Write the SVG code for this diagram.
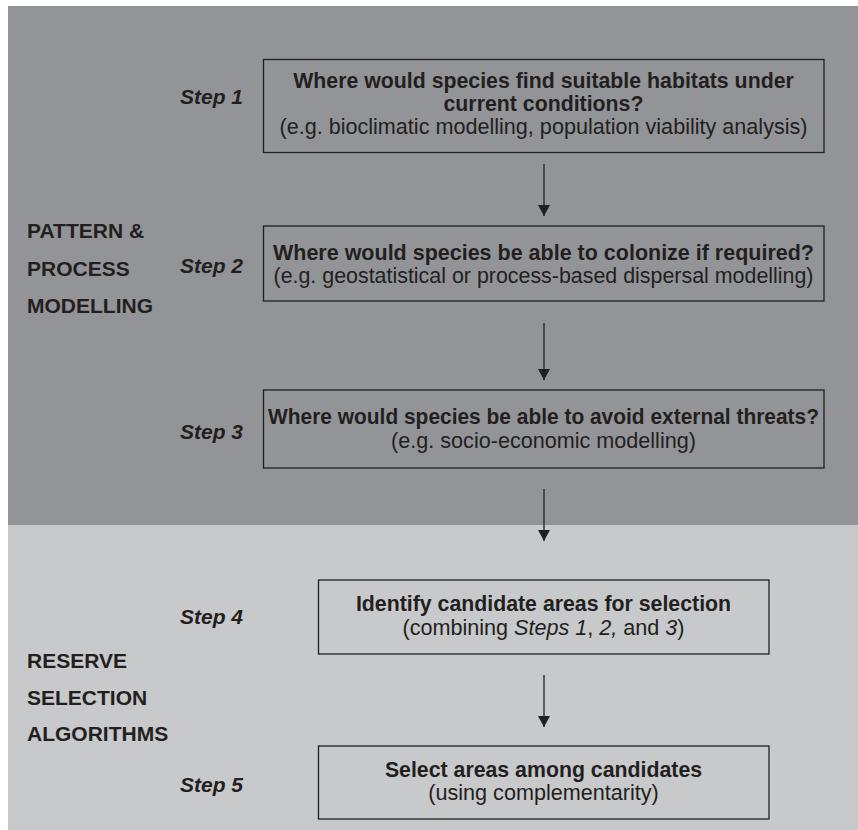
<svg xmlns="http://www.w3.org/2000/svg" width="858" height="830" viewBox="0 0 858 830">
  <style>
    text { font-family: "Liberation Sans", Arial, Helvetica, sans-serif; fill: #231f20; }
    .box { fill: none; stroke: #231f20; stroke-width: 1.3; }
    .t1 { font-size: 21.3px; font-weight: bold; text-anchor: middle; }
    .t2 { font-size: 21.6px; text-anchor: middle; }
    .step { font-size: 21px; font-weight: bold; font-style: italic; text-anchor: end; }
    .sec { font-size: 21px; font-weight: bold; }
    .conn { stroke: #231f20; stroke-width: 1.3; fill: none; }
    .it { font-style: italic; }
  </style>
  <defs>
    <marker id="ah" markerUnits="userSpaceOnUse" markerWidth="11" markerHeight="12" refX="11" refY="6" orient="auto" viewBox="0 0 11 12">
      <path d="M0,0 L11,6 L0,12 Z" fill="#231f20"/>
    </marker>
  </defs>

  <!-- backgrounds -->
  <g id="bands">
    <rect x="8" y="6" width="850" height="519" fill="#939498"/>
    <rect x="8" y="525" width="850" height="305" fill="#c8c9cb"/>
  </g>

  <!-- section labels -->
  <g id="section-pattern">
    <text class="sec" x="27" y="238">PATTERN &amp;</text>
    <text class="sec" x="27" y="276">PROCESS</text>
    <text class="sec" x="27" y="313">MODELLING</text>
  </g>
  <g id="section-reserve">
    <text class="sec" x="27" y="668">RESERVE</text>
    <text class="sec" x="27" y="705">SELECTION</text>
    <text class="sec" x="27" y="741">ALGORITHMS</text>
  </g>

  <!-- step labels -->
  <g id="step-labels">
    <text class="step" x="243" y="104">Step 1</text>
    <text class="step" x="243" y="273">Step 2</text>
    <text class="step" x="243" y="439">Step 3</text>
    <text class="step" x="243" y="624">Step 4</text>
    <text class="step" x="243" y="792">Step 5</text>
  </g>

  <!-- nodes -->
  <g id="step1">
    <rect class="box" x="263.5" y="59.5" width="560.5" height="93"/>
    <text class="t1" x="543.5" y="88">Where would species find suitable habitats under</text>
    <text class="t1" x="543.5" y="111">current conditions?</text>
    <text class="t2" x="543.5" y="134">(e.g. bioclimatic modelling, population viability analysis)</text>
  </g>
  <g id="step2">
    <rect class="box" x="263.5" y="226" width="560.5" height="75"/>
    <text class="t1" x="543.5" y="260" textLength="541" lengthAdjust="spacingAndGlyphs">Where would species be able to colonize if required?</text>
    <text class="t2" x="543.5" y="283" textLength="540" lengthAdjust="spacingAndGlyphs">(e.g. geostatistical or process-based dispersal modelling)</text>
  </g>
  <g id="step3">
    <rect class="box" x="263.5" y="390" width="560.5" height="78"/>
    <text class="t1" x="543.5" y="424" textLength="551" lengthAdjust="spacingAndGlyphs">Where would species be able to avoid external threats?</text>
    <text class="t2" x="543.5" y="448">(e.g. socio-economic modelling)</text>
  </g>
  <g id="step4">
    <rect class="box" x="318.5" y="580" width="450.5" height="74"/>
    <text class="t1" x="543.5" y="611">Identify candidate areas for selection</text>
    <text class="t2" x="543.5" y="635">(combining <tspan class="it">Steps 1</tspan>, <tspan class="it">2,</tspan> and <tspan class="it">3</tspan>)</text>
  </g>
  <g id="step5">
    <rect class="box" x="318.5" y="746" width="450.5" height="73"/>
    <text class="t1" x="543.5" y="777">Select areas among candidates</text>
    <text class="t2" x="543.5" y="800">(using complementarity)</text>
  </g>

  <!-- connectors -->
  <g id="connectors">
    <line class="conn" x1="544" y1="164" x2="544" y2="216" marker-end="url(#ah)"/>
    <line class="conn" x1="544" y1="323" x2="544" y2="380" marker-end="url(#ah)"/>
    <line class="conn" x1="544" y1="489" x2="544" y2="541" marker-end="url(#ah)"/>
    <line class="conn" x1="544" y1="675" x2="544" y2="727" marker-end="url(#ah)"/>
  </g>
</svg>
